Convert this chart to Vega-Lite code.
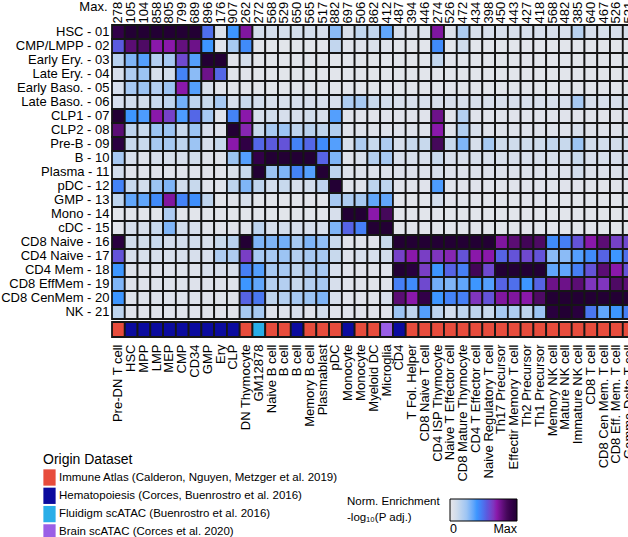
{
"$schema":"https://vega.github.io/schema/vega-lite/v6.json",
"padding":0,
"background":"white",
"bounds":"flush",
"spacing":3,
"config":{"view":{"stroke":null},"font":"Liberation Sans"},
"datasets":{
"cols":[
{"c":1,"key":"278|Pre-DN T cell","ds":"Immune Atlas (Calderon, Nguyen, Metzger et al. 2019)"},
{"c":2,"key":"105|HSC","ds":"Hematopoiesis (Corces, Buenrostro et al. 2016)"},
{"c":3,"key":"104|MPP","ds":"Hematopoiesis (Corces, Buenrostro et al. 2016)"},
{"c":4,"key":"858|LMP","ds":"Hematopoiesis (Corces, Buenrostro et al. 2016)"},
{"c":5,"key":"805|MEP","ds":"Hematopoiesis (Corces, Buenrostro et al. 2016)"},
{"c":6,"key":"799|CMP","ds":"Hematopoiesis (Corces, Buenrostro et al. 2016)"},
{"c":7,"key":"689|CD34","ds":"Hematopoiesis (Corces, Buenrostro et al. 2016)"},
{"c":8,"key":"896|GMP","ds":"Hematopoiesis (Corces, Buenrostro et al. 2016)"},
{"c":9,"key":"176|Ery","ds":"Hematopoiesis (Corces, Buenrostro et al. 2016)"},
{"c":10,"key":"907|CLP","ds":"Hematopoiesis (Corces, Buenrostro et al. 2016)"},
{"c":11,"key":"262|DN Thymocyte","ds":"Immune Atlas (Calderon, Nguyen, Metzger et al. 2019)"},
{"c":12,"key":"272|GM12878","ds":"Fluidigm scATAC (Buenrostro et al. 2016)"},
{"c":13,"key":"568|Naive B cell","ds":"Immune Atlas (Calderon, Nguyen, Metzger et al. 2019)"},
{"c":14,"key":"529|B cell","ds":"Immune Atlas (Calderon, Nguyen, Metzger et al. 2019)"},
{"c":15,"key":"650|B cell","ds":"Hematopoiesis (Corces, Buenrostro et al. 2016)"},
{"c":16,"key":"565|Memory B cell","ds":"Immune Atlas (Calderon, Nguyen, Metzger et al. 2019)"},
{"c":17,"key":"517|Plasmablast","ds":"Immune Atlas (Calderon, Nguyen, Metzger et al. 2019)"},
{"c":18,"key":"882|pDC","ds":"Immune Atlas (Calderon, Nguyen, Metzger et al. 2019)"},
{"c":19,"key":"697|Monocyte","ds":"Hematopoiesis (Corces, Buenrostro et al. 2016)"},
{"c":20,"key":"506|Monocyte","ds":"Immune Atlas (Calderon, Nguyen, Metzger et al. 2019)"},
{"c":21,"key":"862|Myeloid DC","ds":"Immune Atlas (Calderon, Nguyen, Metzger et al. 2019)"},
{"c":22,"key":"412|Microglia","ds":"Brain scATAC (Corces et al. 2020)"},
{"c":23,"key":"487|CD4","ds":"Hematopoiesis (Corces, Buenrostro et al. 2016)"},
{"c":24,"key":"394|T Fol. Helper","ds":"Immune Atlas (Calderon, Nguyen, Metzger et al. 2019)"},
{"c":25,"key":"446|CD8 Naive T cell","ds":"Immune Atlas (Calderon, Nguyen, Metzger et al. 2019)"},
{"c":26,"key":"274|CD4 ISP Thymocyte","ds":"Immune Atlas (Calderon, Nguyen, Metzger et al. 2019)"},
{"c":27,"key":"526|Naive T Effector cell","ds":"Immune Atlas (Calderon, Nguyen, Metzger et al. 2019)"},
{"c":28,"key":"472|CD8 Mature Thymocyte","ds":"Immune Atlas (Calderon, Nguyen, Metzger et al. 2019)"},
{"c":29,"key":"434|CD4 T Effector cell","ds":"Immune Atlas (Calderon, Nguyen, Metzger et al. 2019)"},
{"c":30,"key":"398|Naive Regulatory T cell","ds":"Immune Atlas (Calderon, Nguyen, Metzger et al. 2019)"},
{"c":31,"key":"450|Th17 Precursor","ds":"Immune Atlas (Calderon, Nguyen, Metzger et al. 2019)"},
{"c":32,"key":"443|Effectir Memory T cell","ds":"Immune Atlas (Calderon, Nguyen, Metzger et al. 2019)"},
{"c":33,"key":"427|Th2 Precursor","ds":"Immune Atlas (Calderon, Nguyen, Metzger et al. 2019)"},
{"c":34,"key":"418|Th1 Precursor","ds":"Immune Atlas (Calderon, Nguyen, Metzger et al. 2019)"},
{"c":35,"key":"568|Memory NK cell","ds":"Immune Atlas (Calderon, Nguyen, Metzger et al. 2019)"},
{"c":36,"key":"482|Mature NK cell","ds":"Immune Atlas (Calderon, Nguyen, Metzger et al. 2019)"},
{"c":37,"key":"385|Immature NK cell","ds":"Immune Atlas (Calderon, Nguyen, Metzger et al. 2019)"},
{"c":38,"key":"640|CD8 T cell","ds":"Immune Atlas (Calderon, Nguyen, Metzger et al. 2019)"},
{"c":39,"key":"467|CD8 Cen Mem. T cell","ds":"Immune Atlas (Calderon, Nguyen, Metzger et al. 2019)"},
{"c":40,"key":"526|CD8 Eff. Mem. T cell","ds":"Immune Atlas (Calderon, Nguyen, Metzger et al. 2019)"},
{"c":41,"key":"521|Gamma Delta T cell","ds":"Immune Atlas (Calderon, Nguyen, Metzger et al. 2019)"}
],
"rows":[
{"r":1,"name":"HSC - 01"},{"r":2,"name":"CMP/LMPP - 02"},{"r":3,"name":"Early Ery. - 03"},{"r":4,"name":"Late Ery. - 04"},{"r":5,"name":"Early Baso. - 05"},{"r":6,"name":"Late Baso. - 06"},{"r":7,"name":"CLP1 - 07"},{"r":8,"name":"CLP2 - 08"},{"r":9,"name":"Pre-B - 09"},{"r":10,"name":"B - 10"},{"r":11,"name":"Plasma - 11"},{"r":12,"name":"pDC - 12"},{"r":13,"name":"GMP - 13"},{"r":14,"name":"Mono - 14"},{"r":15,"name":"cDC - 15"},{"r":16,"name":"CD8 Naive - 16"},{"r":17,"name":"CD4 Naive - 17"},{"r":18,"name":"CD4 Mem - 18"},{"r":19,"name":"CD8 EffMem - 19"},{"r":20,"name":"CD8 CenMem - 20"},{"r":21,"name":"NK - 21"}
],
"cells":[
{"r":1,"c":1,"v":0.92},{"r":1,"c":2,"v":1},{"r":1,"c":3,"v":1},{"r":1,"c":4,"v":1},{"r":1,"c":5,"v":1},{"r":1,"c":6,"v":1},{"r":1,"c":7,"v":1},{"r":1,"c":8,"v":0.5},{"r":1,"c":9,"v":0.06},{"r":1,"c":10,"v":0.4},{"r":1,"c":11,"v":0.72},{"r":1,"c":12,"v":0.08},{"r":1,"c":13,"v":0.08},{"r":1,"c":14,"v":0.08},{"r":1,"c":15,"v":0.08},{"r":1,"c":16,"v":0.08},{"r":1,"c":17,"v":0.07},{"r":1,"c":18,"v":0.28},{"r":1,"c":19,"v":0.06},{"r":1,"c":20,"v":0.14},{"r":1,"c":21,"v":0.14},{"r":1,"c":22,"v":0.35},{"r":1,"c":23,"v":0.07},{"r":1,"c":24,"v":0.05},{"r":1,"c":25,"v":0.05},{"r":1,"c":26,"v":0.72},{"r":1,"c":27,"v":0.05},{"r":1,"c":28,"v":0.2},{"r":1,"c":29,"v":0.07},{"r":1,"c":30,"v":0.07},{"r":1,"c":31,"v":0.07},{"r":1,"c":32,"v":0.07},{"r":1,"c":33,"v":0.07},{"r":1,"c":34,"v":0.07},{"r":1,"c":35,"v":0.07},{"r":1,"c":36,"v":0.07},{"r":1,"c":37,"v":0.17},{"r":1,"c":38,"v":0.07},{"r":1,"c":39,"v":0.07},{"r":1,"c":40,"v":0.07},{"r":1,"c":41,"v":0.07},
{"r":2,"c":1,"v":0.55},{"r":2,"c":2,"v":0.8},{"r":2,"c":3,"v":0.83},{"r":2,"c":4,"v":0.7},{"r":2,"c":5,"v":0.7},{"r":2,"c":6,"v":0.78},{"r":2,"c":7,"v":0.76},{"r":2,"c":8,"v":0.4},{"r":2,"c":9,"v":0.03},{"r":2,"c":10,"v":0.22},{"r":2,"c":11,"v":0.43},{"r":2,"c":12,"v":0.02},{"r":2,"c":13,"v":0.02},{"r":2,"c":14,"v":0.02},{"r":2,"c":15,"v":0.02},{"r":2,"c":16,"v":0.02},{"r":2,"c":17,"v":0.02},{"r":2,"c":18,"v":0.14},{"r":2,"c":19,"v":0.03},{"r":2,"c":20,"v":0.04},{"r":2,"c":21,"v":0.06},{"r":2,"c":22,"v":0.04},{"r":2,"c":23,"v":0.02},{"r":2,"c":24,"v":0.02},{"r":2,"c":25,"v":0.02},{"r":2,"c":26,"v":0.43},{"r":2,"c":27,"v":0.02},{"r":2,"c":28,"v":0.1},{"r":2,"c":29,"v":0.02},{"r":2,"c":30,"v":0.02},{"r":2,"c":31,"v":0.02},{"r":2,"c":32,"v":0.02},{"r":2,"c":33,"v":0.02},{"r":2,"c":34,"v":0.02},{"r":2,"c":35,"v":0.02},{"r":2,"c":36,"v":0.02},{"r":2,"c":37,"v":0.02},{"r":2,"c":38,"v":0.02},{"r":2,"c":39,"v":0.02},{"r":2,"c":40,"v":0.02},{"r":2,"c":41,"v":0.02},
{"r":3,"c":1,"v":0.17},{"r":3,"c":2,"v":0.3},{"r":3,"c":3,"v":0.37},{"r":3,"c":4,"v":0.18},{"r":3,"c":5,"v":0.22},{"r":3,"c":6,"v":0.6},{"r":3,"c":7,"v":0.37},{"r":3,"c":8,"v":1},{"r":3,"c":9,"v":1},{"r":3,"c":10,"v":0.03},{"r":3,"c":11,"v":0.08},{"r":3,"c":12,"v":0.02},{"r":3,"c":13,"v":0.02},{"r":3,"c":14,"v":0.02},{"r":3,"c":15,"v":0.02},{"r":3,"c":16,"v":0.02},{"r":3,"c":17,"v":0.02},{"r":3,"c":18,"v":0.02},{"r":3,"c":19,"v":0.02},{"r":3,"c":20,"v":0.02},{"r":3,"c":21,"v":0.02},{"r":3,"c":22,"v":0.02},{"r":3,"c":23,"v":0.02},{"r":3,"c":24,"v":0.02},{"r":3,"c":25,"v":0.02},{"r":3,"c":26,"v":0.14},{"r":3,"c":27,"v":0.02},{"r":3,"c":28,"v":0.02},{"r":3,"c":29,"v":0.02},{"r":3,"c":30,"v":0.02},{"r":3,"c":31,"v":0.02},{"r":3,"c":32,"v":0.02},{"r":3,"c":33,"v":0.02},{"r":3,"c":34,"v":0.02},{"r":3,"c":35,"v":0.02},{"r":3,"c":36,"v":0.02},{"r":3,"c":37,"v":0.02},{"r":3,"c":38,"v":0.02},{"r":3,"c":39,"v":0.02},{"r":3,"c":40,"v":0.02},{"r":3,"c":41,"v":0.02},
{"r":4,"c":1,"v":0.07},{"r":4,"c":2,"v":0.2},{"r":4,"c":3,"v":0.25},{"r":4,"c":4,"v":0.07},{"r":4,"c":5,"v":0.09},{"r":4,"c":6,"v":0.45},{"r":4,"c":7,"v":0.28},{"r":4,"c":8,"v":0.76},{"r":4,"c":9,"v":0.52},{"r":4,"c":10,"v":0.03},{"r":4,"c":11,"v":0.03},{"r":4,"c":12,"v":0.02},{"r":4,"c":13,"v":0.02},{"r":4,"c":14,"v":0.02},{"r":4,"c":15,"v":0.02},{"r":4,"c":16,"v":0.02},{"r":4,"c":17,"v":0.02},{"r":4,"c":18,"v":0.02},{"r":4,"c":19,"v":0.02},{"r":4,"c":20,"v":0.02},{"r":4,"c":21,"v":0.02},{"r":4,"c":22,"v":0.02},{"r":4,"c":23,"v":0.02},{"r":4,"c":24,"v":0.02},{"r":4,"c":25,"v":0.02},{"r":4,"c":26,"v":0.02},{"r":4,"c":27,"v":0.02},{"r":4,"c":28,"v":0.02},{"r":4,"c":29,"v":0.02},{"r":4,"c":30,"v":0.02},{"r":4,"c":31,"v":0.02},{"r":4,"c":32,"v":0.02},{"r":4,"c":33,"v":0.02},{"r":4,"c":34,"v":0.02},{"r":4,"c":35,"v":0.02},{"r":4,"c":36,"v":0.02},{"r":4,"c":37,"v":0.02},{"r":4,"c":38,"v":0.02},{"r":4,"c":39,"v":0.02},{"r":4,"c":40,"v":0.02},{"r":4,"c":41,"v":0.02},
{"r":5,"c":1,"v":0.07},{"r":5,"c":2,"v":0.22},{"r":5,"c":3,"v":0.25},{"r":5,"c":4,"v":0.18},{"r":5,"c":5,"v":0.25},{"r":5,"c":6,"v":0.7},{"r":5,"c":7,"v":0.37},{"r":5,"c":8,"v":0.07},{"r":5,"c":9,"v":0.03},{"r":5,"c":10,"v":0.02},{"r":5,"c":11,"v":0.02},{"r":5,"c":12,"v":0.02},{"r":5,"c":13,"v":0.02},{"r":5,"c":14,"v":0.02},{"r":5,"c":15,"v":0.02},{"r":5,"c":16,"v":0.02},{"r":5,"c":17,"v":0.02},{"r":5,"c":18,"v":0.02},{"r":5,"c":19,"v":0.02},{"r":5,"c":20,"v":0.02},{"r":5,"c":21,"v":0.02},{"r":5,"c":22,"v":0.02},{"r":5,"c":23,"v":0.02},{"r":5,"c":24,"v":0.02},{"r":5,"c":25,"v":0.02},{"r":5,"c":26,"v":0.02},{"r":5,"c":27,"v":0.02},{"r":5,"c":28,"v":0.02},{"r":5,"c":29,"v":0.02},{"r":5,"c":30,"v":0.02},{"r":5,"c":31,"v":0.02},{"r":5,"c":32,"v":0.02},{"r":5,"c":33,"v":0.02},{"r":5,"c":34,"v":0.02},{"r":5,"c":35,"v":0.02},{"r":5,"c":36,"v":0.02},{"r":5,"c":37,"v":0.02},{"r":5,"c":38,"v":0.02},{"r":5,"c":39,"v":0.02},{"r":5,"c":40,"v":0.02},{"r":5,"c":41,"v":0.02},
{"r":6,"c":1,"v":0.07},{"r":6,"c":2,"v":0.09},{"r":6,"c":3,"v":0.09},{"r":6,"c":4,"v":0.12},{"r":6,"c":5,"v":0.15},{"r":6,"c":6,"v":0.32},{"r":6,"c":7,"v":0.15},{"r":6,"c":8,"v":0.12},{"r":6,"c":9,"v":0.22},{"r":6,"c":10,"v":0.07},{"r":6,"c":11,"v":0.12},{"r":6,"c":12,"v":0.09},{"r":6,"c":13,"v":0.07},{"r":6,"c":14,"v":0.07},{"r":6,"c":15,"v":0.07},{"r":6,"c":16,"v":0.07},{"r":6,"c":17,"v":0.07},{"r":6,"c":18,"v":0.07},{"r":6,"c":19,"v":0.2},{"r":6,"c":20,"v":0.22},{"r":6,"c":21,"v":0.12},{"r":6,"c":22,"v":0.09},{"r":6,"c":23,"v":0.07},{"r":6,"c":24,"v":0.07},{"r":6,"c":25,"v":0.07},{"r":6,"c":26,"v":0.07},{"r":6,"c":27,"v":0.07},{"r":6,"c":28,"v":0.07},{"r":6,"c":29,"v":0.07},{"r":6,"c":30,"v":0.07},{"r":6,"c":31,"v":0.07},{"r":6,"c":32,"v":0.07},{"r":6,"c":33,"v":0.07},{"r":6,"c":34,"v":0.07},{"r":6,"c":35,"v":0.07},{"r":6,"c":36,"v":0.07},{"r":6,"c":37,"v":0.22},{"r":6,"c":38,"v":0.07},{"r":6,"c":39,"v":0.07},{"r":6,"c":40,"v":0.07},{"r":6,"c":41,"v":0.07},
{"r":7,"c":1,"v":1},{"r":7,"c":2,"v":0.4},{"r":7,"c":3,"v":0.38},{"r":7,"c":4,"v":0.7},{"r":7,"c":5,"v":0.62},{"r":7,"c":6,"v":0.38},{"r":7,"c":7,"v":0.52},{"r":7,"c":8,"v":0.22},{"r":7,"c":9,"v":0.03},{"r":7,"c":10,"v":0.45},{"r":7,"c":11,"v":0.7},{"r":7,"c":12,"v":0.07},{"r":7,"c":13,"v":0.09},{"r":7,"c":14,"v":0.07},{"r":7,"c":15,"v":0.07},{"r":7,"c":16,"v":0.09},{"r":7,"c":17,"v":0.07},{"r":7,"c":18,"v":0.37},{"r":7,"c":19,"v":0.03},{"r":7,"c":20,"v":0.03},{"r":7,"c":21,"v":0.03},{"r":7,"c":22,"v":0.03},{"r":7,"c":23,"v":0.03},{"r":7,"c":24,"v":0.03},{"r":7,"c":25,"v":0.03},{"r":7,"c":26,"v":0.76},{"r":7,"c":27,"v":0.03},{"r":7,"c":28,"v":0.18},{"r":7,"c":29,"v":0.03},{"r":7,"c":30,"v":0.03},{"r":7,"c":31,"v":0.03},{"r":7,"c":32,"v":0.03},{"r":7,"c":33,"v":0.03},{"r":7,"c":34,"v":0.03},{"r":7,"c":35,"v":0.03},{"r":7,"c":36,"v":0.03},{"r":7,"c":37,"v":0.03},{"r":7,"c":38,"v":0.03},{"r":7,"c":39,"v":0.03},{"r":7,"c":40,"v":0.03},{"r":7,"c":41,"v":0.03},
{"r":8,"c":1,"v":0.8},{"r":8,"c":2,"v":0.15},{"r":8,"c":3,"v":0.12},{"r":8,"c":4,"v":0.25},{"r":8,"c":5,"v":0.25},{"r":8,"c":6,"v":0.12},{"r":8,"c":7,"v":0.25},{"r":8,"c":8,"v":0.07},{"r":8,"c":9,"v":0.03},{"r":8,"c":10,"v":1},{"r":8,"c":11,"v":0.68},{"r":8,"c":12,"v":0.12},{"r":8,"c":13,"v":0.22},{"r":8,"c":14,"v":0.25},{"r":8,"c":15,"v":0.15},{"r":8,"c":16,"v":0.17},{"r":8,"c":17,"v":0.15},{"r":8,"c":18,"v":0.19},{"r":8,"c":19,"v":0.04},{"r":8,"c":20,"v":0.04},{"r":8,"c":21,"v":0.04},{"r":8,"c":22,"v":0.04},{"r":8,"c":23,"v":0.04},{"r":8,"c":24,"v":0.04},{"r":8,"c":25,"v":0.04},{"r":8,"c":26,"v":0.7},{"r":8,"c":27,"v":0.04},{"r":8,"c":28,"v":0.19},{"r":8,"c":29,"v":0.07},{"r":8,"c":30,"v":0.04},{"r":8,"c":31,"v":0.04},{"r":8,"c":32,"v":0.04},{"r":8,"c":33,"v":0.04},{"r":8,"c":34,"v":0.04},{"r":8,"c":35,"v":0.04},{"r":8,"c":36,"v":0.04},{"r":8,"c":37,"v":0.07},{"r":8,"c":38,"v":0.04},{"r":8,"c":39,"v":0.04},{"r":8,"c":40,"v":0.04},{"r":8,"c":41,"v":0.04},
{"r":9,"c":1,"v":0.95},{"r":9,"c":2,"v":0.12},{"r":9,"c":3,"v":0.12},{"r":9,"c":4,"v":0.22},{"r":9,"c":5,"v":0.22},{"r":9,"c":6,"v":0.15},{"r":9,"c":7,"v":0.25},{"r":9,"c":8,"v":0.07},{"r":9,"c":9,"v":0.12},{"r":9,"c":10,"v":0.7},{"r":9,"c":11,"v":0.93},{"r":9,"c":12,"v":0.52},{"r":9,"c":13,"v":0.55},{"r":9,"c":14,"v":0.57},{"r":9,"c":15,"v":0.45},{"r":9,"c":16,"v":0.52},{"r":9,"c":17,"v":0.43},{"r":9,"c":18,"v":0.37},{"r":9,"c":19,"v":0.07},{"r":9,"c":20,"v":0.2},{"r":9,"c":21,"v":0.12},{"r":9,"c":22,"v":0.2},{"r":9,"c":23,"v":0.07},{"r":9,"c":24,"v":0.12},{"r":9,"c":25,"v":0.12},{"r":9,"c":26,"v":0.85},{"r":9,"c":27,"v":0.12},{"r":9,"c":28,"v":0.3},{"r":9,"c":29,"v":0.07},{"r":9,"c":30,"v":0.22},{"r":9,"c":31,"v":0.1},{"r":9,"c":32,"v":0.1},{"r":9,"c":33,"v":0.1},{"r":9,"c":34,"v":0.1},{"r":9,"c":35,"v":0.14},{"r":9,"c":36,"v":0.12},{"r":9,"c":37,"v":0.25},{"r":9,"c":38,"v":0.09},{"r":9,"c":39,"v":0.09},{"r":9,"c":40,"v":0.09},{"r":9,"c":41,"v":0.09},
{"r":10,"c":1,"v":0.22},{"r":10,"c":2,"v":0.07},{"r":10,"c":3,"v":0.04},{"r":10,"c":4,"v":0.07},{"r":10,"c":5,"v":0.07},{"r":10,"c":6,"v":0.07},{"r":10,"c":7,"v":0.09},{"r":10,"c":8,"v":0.04},{"r":10,"c":9,"v":0.04},{"r":10,"c":10,"v":0.25},{"r":10,"c":11,"v":0.37},{"r":10,"c":12,"v":0.92},{"r":10,"c":13,"v":1},{"r":10,"c":14,"v":1},{"r":10,"c":15,"v":1},{"r":10,"c":16,"v":1},{"r":10,"c":17,"v":0.53},{"r":10,"c":18,"v":0.3},{"r":10,"c":19,"v":0.04},{"r":10,"c":20,"v":0.07},{"r":10,"c":21,"v":0.18},{"r":10,"c":22,"v":0.22},{"r":10,"c":23,"v":0.07},{"r":10,"c":24,"v":0.07},{"r":10,"c":25,"v":0.07},{"r":10,"c":26,"v":0.12},{"r":10,"c":27,"v":0.07},{"r":10,"c":28,"v":0.07},{"r":10,"c":29,"v":0.07},{"r":10,"c":30,"v":0.07},{"r":10,"c":31,"v":0.07},{"r":10,"c":32,"v":0.07},{"r":10,"c":33,"v":0.07},{"r":10,"c":34,"v":0.07},{"r":10,"c":35,"v":0.07},{"r":10,"c":36,"v":0.07},{"r":10,"c":37,"v":0.12},{"r":10,"c":38,"v":0.07},{"r":10,"c":39,"v":0.07},{"r":10,"c":40,"v":0.07},{"r":10,"c":41,"v":0.07},
{"r":11,"c":1,"v":0.09},{"r":11,"c":2,"v":0.03},{"r":11,"c":3,"v":0.03},{"r":11,"c":4,"v":0.03},{"r":11,"c":5,"v":0.03},{"r":11,"c":6,"v":0.03},{"r":11,"c":7,"v":0.03},{"r":11,"c":8,"v":0.03},{"r":11,"c":9,"v":0.03},{"r":11,"c":10,"v":0.06},{"r":11,"c":11,"v":0.12},{"r":11,"c":12,"v":1},{"r":11,"c":13,"v":0.25},{"r":11,"c":14,"v":0.3},{"r":11,"c":15,"v":0.45},{"r":11,"c":16,"v":0.37},{"r":11,"c":17,"v":1},{"r":11,"c":18,"v":0.15},{"r":11,"c":19,"v":0.05},{"r":11,"c":20,"v":0.05},{"r":11,"c":21,"v":0.05},{"r":11,"c":22,"v":0.05},{"r":11,"c":23,"v":0.05},{"r":11,"c":24,"v":0.05},{"r":11,"c":25,"v":0.05},{"r":11,"c":26,"v":0.07},{"r":11,"c":27,"v":0.05},{"r":11,"c":28,"v":0.05},{"r":11,"c":29,"v":0.05},{"r":11,"c":30,"v":0.05},{"r":11,"c":31,"v":0.05},{"r":11,"c":32,"v":0.05},{"r":11,"c":33,"v":0.05},{"r":11,"c":34,"v":0.05},{"r":11,"c":35,"v":0.05},{"r":11,"c":36,"v":0.05},{"r":11,"c":37,"v":0.09},{"r":11,"c":38,"v":0.05},{"r":11,"c":39,"v":0.05},{"r":11,"c":40,"v":0.05},{"r":11,"c":41,"v":0.05},
{"r":12,"c":1,"v":0.45},{"r":12,"c":2,"v":0.12},{"r":12,"c":3,"v":0.09},{"r":12,"c":4,"v":0.25},{"r":12,"c":5,"v":0.3},{"r":12,"c":6,"v":0.09},{"r":12,"c":7,"v":0.12},{"r":12,"c":8,"v":0.03},{"r":12,"c":9,"v":0.03},{"r":12,"c":10,"v":0.15},{"r":12,"c":11,"v":0.3},{"r":12,"c":12,"v":0.15},{"r":12,"c":13,"v":0.09},{"r":12,"c":14,"v":0.12},{"r":12,"c":15,"v":0.07},{"r":12,"c":16,"v":0.09},{"r":12,"c":17,"v":0.15},{"r":12,"c":18,"v":1},{"r":12,"c":19,"v":0.03},{"r":12,"c":20,"v":0.03},{"r":12,"c":21,"v":0.15},{"r":12,"c":22,"v":0.15},{"r":12,"c":23,"v":0.03},{"r":12,"c":24,"v":0.03},{"r":12,"c":25,"v":0.03},{"r":12,"c":26,"v":0.38},{"r":12,"c":27,"v":0.03},{"r":12,"c":28,"v":0.03},{"r":12,"c":29,"v":0.03},{"r":12,"c":30,"v":0.03},{"r":12,"c":31,"v":0.03},{"r":12,"c":32,"v":0.03},{"r":12,"c":33,"v":0.03},{"r":12,"c":34,"v":0.03},{"r":12,"c":35,"v":0.03},{"r":12,"c":36,"v":0.03},{"r":12,"c":37,"v":0.03},{"r":12,"c":38,"v":0.03},{"r":12,"c":39,"v":0.03},{"r":12,"c":40,"v":0.03},{"r":12,"c":41,"v":0.03},
{"r":13,"c":1,"v":0.15},{"r":13,"c":2,"v":0.35},{"r":13,"c":3,"v":0.35},{"r":13,"c":4,"v":0.43},{"r":13,"c":5,"v":0.72},{"r":13,"c":6,"v":0.45},{"r":13,"c":7,"v":0.42},{"r":13,"c":8,"v":0.15},{"r":13,"c":9,"v":0.02},{"r":13,"c":10,"v":0.03},{"r":13,"c":11,"v":0.07},{"r":13,"c":12,"v":0.02},{"r":13,"c":13,"v":0.02},{"r":13,"c":14,"v":0.02},{"r":13,"c":15,"v":0.02},{"r":13,"c":16,"v":0.02},{"r":13,"c":17,"v":0.02},{"r":13,"c":18,"v":0.22},{"r":13,"c":19,"v":0.2},{"r":13,"c":20,"v":0.22},{"r":13,"c":21,"v":0.35},{"r":13,"c":22,"v":0.35},{"r":13,"c":23,"v":0.02},{"r":13,"c":24,"v":0.02},{"r":13,"c":25,"v":0.02},{"r":13,"c":26,"v":0.09},{"r":13,"c":27,"v":0.02},{"r":13,"c":28,"v":0.02},{"r":13,"c":29,"v":0.02},{"r":13,"c":30,"v":0.02},{"r":13,"c":31,"v":0.02},{"r":13,"c":32,"v":0.02},{"r":13,"c":33,"v":0.02},{"r":13,"c":34,"v":0.02},{"r":13,"c":35,"v":0.02},{"r":13,"c":36,"v":0.02},{"r":13,"c":37,"v":0.02},{"r":13,"c":38,"v":0.02},{"r":13,"c":39,"v":0.02},{"r":13,"c":40,"v":0.02},{"r":13,"c":41,"v":0.02},
{"r":14,"c":1,"v":0.02},{"r":14,"c":2,"v":0.02},{"r":14,"c":3,"v":0.02},{"r":14,"c":4,"v":0.02},{"r":14,"c":5,"v":0.2},{"r":14,"c":6,"v":0.02},{"r":14,"c":7,"v":0.02},{"r":14,"c":8,"v":0.02},{"r":14,"c":9,"v":0.02},{"r":14,"c":10,"v":0.02},{"r":14,"c":11,"v":0.02},{"r":14,"c":12,"v":0.02},{"r":14,"c":13,"v":0.02},{"r":14,"c":14,"v":0.02},{"r":14,"c":15,"v":0.02},{"r":14,"c":16,"v":0.02},{"r":14,"c":17,"v":0.02},{"r":14,"c":18,"v":0.07},{"r":14,"c":19,"v":1},{"r":14,"c":20,"v":1},{"r":14,"c":21,"v":0.7},{"r":14,"c":22,"v":0.85},{"r":14,"c":23,"v":0.02},{"r":14,"c":24,"v":0.02},{"r":14,"c":25,"v":0.02},{"r":14,"c":26,"v":0.02},{"r":14,"c":27,"v":0.02},{"r":14,"c":28,"v":0.02},{"r":14,"c":29,"v":0.02},{"r":14,"c":30,"v":0.02},{"r":14,"c":31,"v":0.02},{"r":14,"c":32,"v":0.02},{"r":14,"c":33,"v":0.02},{"r":14,"c":34,"v":0.02},{"r":14,"c":35,"v":0.02},{"r":14,"c":36,"v":0.02},{"r":14,"c":37,"v":0.02},{"r":14,"c":38,"v":0.02},{"r":14,"c":39,"v":0.02},{"r":14,"c":40,"v":0.02},{"r":14,"c":41,"v":0.02},
{"r":15,"c":1,"v":0.02},{"r":15,"c":2,"v":0.07},{"r":15,"c":3,"v":0.07},{"r":15,"c":4,"v":0.12},{"r":15,"c":5,"v":0.3},{"r":15,"c":6,"v":0.09},{"r":15,"c":7,"v":0.07},{"r":15,"c":8,"v":0.03},{"r":15,"c":9,"v":0.03},{"r":15,"c":10,"v":0.03},{"r":15,"c":11,"v":0.03},{"r":15,"c":12,"v":0.15},{"r":15,"c":13,"v":0.07},{"r":15,"c":14,"v":0.09},{"r":15,"c":15,"v":0.07},{"r":15,"c":16,"v":0.07},{"r":15,"c":17,"v":0.07},{"r":15,"c":18,"v":0.3},{"r":15,"c":19,"v":0.53},{"r":15,"c":20,"v":0.46},{"r":15,"c":21,"v":1},{"r":15,"c":22,"v":1},{"r":15,"c":23,"v":0.02},{"r":15,"c":24,"v":0.02},{"r":15,"c":25,"v":0.02},{"r":15,"c":26,"v":0.02},{"r":15,"c":27,"v":0.02},{"r":15,"c":28,"v":0.02},{"r":15,"c":29,"v":0.02},{"r":15,"c":30,"v":0.02},{"r":15,"c":31,"v":0.02},{"r":15,"c":32,"v":0.02},{"r":15,"c":33,"v":0.02},{"r":15,"c":34,"v":0.02},{"r":15,"c":35,"v":0.02},{"r":15,"c":36,"v":0.02},{"r":15,"c":37,"v":0.02},{"r":15,"c":38,"v":0.02},{"r":15,"c":39,"v":0.02},{"r":15,"c":40,"v":0.02},{"r":15,"c":41,"v":0.02},
{"r":16,"c":1,"v":0.95},{"r":16,"c":2,"v":0.09},{"r":16,"c":3,"v":0.09},{"r":16,"c":4,"v":0.12},{"r":16,"c":5,"v":0.09},{"r":16,"c":6,"v":0.09},{"r":16,"c":7,"v":0.09},{"r":16,"c":8,"v":0.07},{"r":16,"c":9,"v":0.12},{"r":16,"c":10,"v":0.17},{"r":16,"c":11,"v":1},{"r":16,"c":12,"v":0.3},{"r":16,"c":13,"v":0.3},{"r":16,"c":14,"v":0.32},{"r":16,"c":15,"v":0.22},{"r":16,"c":16,"v":0.3},{"r":16,"c":17,"v":0.27},{"r":16,"c":18,"v":0.12},{"r":16,"c":19,"v":0.03},{"r":16,"c":20,"v":0.03},{"r":16,"c":21,"v":0.03},{"r":16,"c":22,"v":0.12},{"r":16,"c":23,"v":1},{"r":16,"c":24,"v":1},{"r":16,"c":25,"v":1},{"r":16,"c":26,"v":1},{"r":16,"c":27,"v":1},{"r":16,"c":28,"v":1},{"r":16,"c":29,"v":1},{"r":16,"c":30,"v":1},{"r":16,"c":31,"v":0.72},{"r":16,"c":32,"v":0.8},{"r":16,"c":33,"v":0.86},{"r":16,"c":34,"v":0.83},{"r":16,"c":35,"v":0.43},{"r":16,"c":36,"v":0.46},{"r":16,"c":37,"v":0.57},{"r":16,"c":38,"v":0.7},{"r":16,"c":39,"v":0.8},{"r":16,"c":40,"v":0.62},{"r":16,"c":41,"v":0.6},
{"r":17,"c":1,"v":0.57},{"r":17,"c":2,"v":0.07},{"r":17,"c":3,"v":0.07},{"r":17,"c":4,"v":0.07},{"r":17,"c":5,"v":0.07},{"r":17,"c":6,"v":0.07},{"r":17,"c":7,"v":0.07},{"r":17,"c":8,"v":0.07},{"r":17,"c":9,"v":0.2},{"r":17,"c":10,"v":0.2},{"r":17,"c":11,"v":0.63},{"r":17,"c":12,"v":0.22},{"r":17,"c":13,"v":0.22},{"r":17,"c":14,"v":0.25},{"r":17,"c":15,"v":0.18},{"r":17,"c":16,"v":0.22},{"r":17,"c":17,"v":0.22},{"r":17,"c":18,"v":0.12},{"r":17,"c":19,"v":0.04},{"r":17,"c":20,"v":0.07},{"r":17,"c":21,"v":0.07},{"r":17,"c":22,"v":0.09},{"r":17,"c":23,"v":0.62},{"r":17,"c":24,"v":0.7},{"r":17,"c":25,"v":0.63},{"r":17,"c":26,"v":0.65},{"r":17,"c":27,"v":0.68},{"r":17,"c":28,"v":0.57},{"r":17,"c":29,"v":0.7},{"r":17,"c":30,"v":0.7},{"r":17,"c":31,"v":0.53},{"r":17,"c":32,"v":0.57},{"r":17,"c":33,"v":0.6},{"r":17,"c":34,"v":0.57},{"r":17,"c":35,"v":0.28},{"r":17,"c":36,"v":0.28},{"r":17,"c":37,"v":0.37},{"r":17,"c":38,"v":0.43},{"r":17,"c":39,"v":0.53},{"r":17,"c":40,"v":0.4},{"r":17,"c":41,"v":0.5},
{"r":18,"c":1,"v":0.4},{"r":18,"c":2,"v":0.04},{"r":18,"c":3,"v":0.04},{"r":18,"c":4,"v":0.04},{"r":18,"c":5,"v":0.04},{"r":18,"c":6,"v":0.04},{"r":18,"c":7,"v":0.04},{"r":18,"c":8,"v":0.07},{"r":18,"c":9,"v":0.07},{"r":18,"c":10,"v":0.07},{"r":18,"c":11,"v":0.46},{"r":18,"c":12,"v":0.37},{"r":18,"c":13,"v":0.22},{"r":18,"c":14,"v":0.22},{"r":18,"c":15,"v":0.15},{"r":18,"c":16,"v":0.2},{"r":18,"c":17,"v":0.22},{"r":18,"c":18,"v":0.07},{"r":18,"c":19,"v":0.03},{"r":18,"c":20,"v":0.03},{"r":18,"c":21,"v":0.03},{"r":18,"c":22,"v":0.03},{"r":18,"c":23,"v":1},{"r":18,"c":24,"v":0.96},{"r":18,"c":25,"v":0.63},{"r":18,"c":26,"v":0.4},{"r":18,"c":27,"v":0.53},{"r":18,"c":28,"v":0.46},{"r":18,"c":29,"v":0.86},{"r":18,"c":30,"v":0.6},{"r":18,"c":31,"v":1},{"r":18,"c":32,"v":1},{"r":18,"c":33,"v":1},{"r":18,"c":34,"v":1},{"r":18,"c":35,"v":0.35},{"r":18,"c":36,"v":0.35},{"r":18,"c":37,"v":0.46},{"r":18,"c":38,"v":0.57},{"r":18,"c":39,"v":0.8},{"r":18,"c":40,"v":0.7},{"r":18,"c":41,"v":0.57},
{"r":19,"c":1,"v":0.3},{"r":19,"c":2,"v":0.04},{"r":19,"c":3,"v":0.04},{"r":19,"c":4,"v":0.04},{"r":19,"c":5,"v":0.04},{"r":19,"c":6,"v":0.04},{"r":19,"c":7,"v":0.04},{"r":19,"c":8,"v":0.04},{"r":19,"c":9,"v":0.04},{"r":19,"c":10,"v":0.04},{"r":19,"c":11,"v":0.4},{"r":19,"c":12,"v":0.35},{"r":19,"c":13,"v":0.18},{"r":19,"c":14,"v":0.18},{"r":19,"c":15,"v":0.12},{"r":19,"c":16,"v":0.18},{"r":19,"c":17,"v":0.22},{"r":19,"c":18,"v":0.07},{"r":19,"c":19,"v":0.03},{"r":19,"c":20,"v":0.03},{"r":19,"c":21,"v":0.03},{"r":19,"c":22,"v":0.03},{"r":19,"c":23,"v":0.46},{"r":19,"c":24,"v":0.43},{"r":19,"c":25,"v":0.6},{"r":19,"c":26,"v":0.32},{"r":19,"c":27,"v":0.3},{"r":19,"c":28,"v":0.35},{"r":19,"c":29,"v":0.4},{"r":19,"c":30,"v":0.37},{"r":19,"c":31,"v":0.53},{"r":19,"c":32,"v":0.5},{"r":19,"c":33,"v":0.4},{"r":19,"c":34,"v":0.53},{"r":19,"c":35,"v":0.76},{"r":19,"c":36,"v":0.76},{"r":19,"c":37,"v":0.8},{"r":19,"c":38,"v":0.65},{"r":19,"c":39,"v":0.65},{"r":19,"c":40,"v":0.83},{"r":19,"c":41,"v":0.8},
{"r":20,"c":1,"v":0.4},{"r":20,"c":2,"v":0.04},{"r":20,"c":3,"v":0.04},{"r":20,"c":4,"v":0.04},{"r":20,"c":5,"v":0.04},{"r":20,"c":6,"v":0.04},{"r":20,"c":7,"v":0.04},{"r":20,"c":8,"v":0.04},{"r":20,"c":9,"v":0.04},{"r":20,"c":10,"v":0.04},{"r":20,"c":11,"v":0.53},{"r":20,"c":12,"v":0.48},{"r":20,"c":13,"v":0.15},{"r":20,"c":14,"v":0.18},{"r":20,"c":15,"v":0.22},{"r":20,"c":16,"v":0.25},{"r":20,"c":17,"v":0.3},{"r":20,"c":18,"v":0.07},{"r":20,"c":19,"v":0.03},{"r":20,"c":20,"v":0.03},{"r":20,"c":21,"v":0.03},{"r":20,"c":22,"v":0.07},{"r":20,"c":23,"v":0.8},{"r":20,"c":24,"v":0.7},{"r":20,"c":25,"v":0.92},{"r":20,"c":26,"v":0.4},{"r":20,"c":27,"v":0.45},{"r":20,"c":28,"v":0.46},{"r":20,"c":29,"v":0.65},{"r":20,"c":30,"v":0.57},{"r":20,"c":31,"v":0.72},{"r":20,"c":32,"v":0.72},{"r":20,"c":33,"v":0.7},{"r":20,"c":34,"v":0.83},{"r":20,"c":35,"v":1},{"r":20,"c":36,"v":1},{"r":20,"c":37,"v":1},{"r":20,"c":38,"v":1},{"r":20,"c":39,"v":1},{"r":20,"c":40,"v":1},{"r":20,"c":41,"v":1},
{"r":21,"c":1,"v":0.15},{"r":21,"c":2,"v":0.03},{"r":21,"c":3,"v":0.03},{"r":21,"c":4,"v":0.03},{"r":21,"c":5,"v":0.03},{"r":21,"c":6,"v":0.03},{"r":21,"c":7,"v":0.03},{"r":21,"c":8,"v":0.03},{"r":21,"c":9,"v":0.03},{"r":21,"c":10,"v":0.03},{"r":21,"c":11,"v":0.22},{"r":21,"c":12,"v":0.22},{"r":21,"c":13,"v":0.04},{"r":21,"c":14,"v":0.04},{"r":21,"c":15,"v":0.07},{"r":21,"c":16,"v":0.04},{"r":21,"c":17,"v":0.09},{"r":21,"c":18,"v":0.03},{"r":21,"c":19,"v":0.03},{"r":21,"c":20,"v":0.03},{"r":21,"c":21,"v":0.03},{"r":21,"c":22,"v":0.03},{"r":21,"c":23,"v":0.25},{"r":21,"c":24,"v":0.15},{"r":21,"c":25,"v":0.37},{"r":21,"c":26,"v":0.15},{"r":21,"c":27,"v":0.09},{"r":21,"c":28,"v":0.15},{"r":21,"c":29,"v":0.15},{"r":21,"c":30,"v":0.12},{"r":21,"c":31,"v":0.22},{"r":21,"c":32,"v":0.2},{"r":21,"c":33,"v":0.15},{"r":21,"c":34,"v":0.25},{"r":21,"c":35,"v":0.96},{"r":21,"c":36,"v":1},{"r":21,"c":37,"v":0.96},{"r":21,"c":38,"v":0.48},{"r":21,"c":39,"v":0.35},{"r":21,"c":40,"v":0.4},{"r":21,"c":41,"v":0.46}
]
},
"vconcat":[
{
"width":{"step":12.77},
"height":{"step":14},
"data":{"name":"cells"},
"transform":[
{"lookup":"c","from":{"data":{"name":"cols"},"key":"c","fields":["key"]}},
{"lookup":"r","from":{"data":{"name":"rows"},"key":"r","fields":["name"]}}
],
"mark":{"type":"rect","stroke":"#161616","strokeWidth":1.8},
"encoding":{
"x":{"field":"key","type":"nominal","sort":{"field":"c","op":"min"},"scale":{"paddingInner":0,"paddingOuter":0},
"axis":{"orient":"top","labelAngle":-90,"labelExpr":"split(datum.value,'|')[0]","labelFontSize":13,"labelColor":"black","ticks":false,"domain":false,"labelPadding":2,"title":"Max.","titleFontSize":13,"titleFontWeight":"normal","titleColor":"black","titleX":-5,"titleY":-15,"titleAlign":"right","titleBaseline":"alphabetic","titleAngle":0}},
"y":{"field":"name","type":"nominal","sort":{"field":"r","op":"min"},"scale":{"paddingInner":0,"paddingOuter":0},
"axis":{"title":null,"ticks":false,"domain":false,"labelFontSize":13,"labelColor":"black","labelPadding":3}},
"color":{"field":"v","type":"quantitative",
"scale":{"domain":[0,0.1,0.25,0.4,0.55,0.7,0.85,1],"range":["#e6e7ea","#cfdcec","#9cc4f3","#3d96ff","#5b5ade","#8a18aa","#45085a","#000000"]},
"legend":{"orient":"none","legendX":235,"legendY":474,"direction":"horizontal","title":["Norm. Enrichment","\u00a0\u00a0\u00a0\u00a0\u00a0\u00a0\u00a0\u00a0\u00a0\u00a0\u00a0-log₁₀(P adj.)"],"titleOrient":"left","titleFontSize":11.5,"titleFontWeight":"normal","titleColor":"black","titlePadding":10,"titleLineHeight":16,"gradientLength":67,"gradientThickness":22,"gradientStrokeColor":"black","gradientStrokeWidth":1,"values":[0,1],"labelExpr":"datum.value==0?'0':'Max'","labelFontSize":12.5,"labelColor":"black","labelOffset":2}}
}
},
{
"width":{"step":12.77},
"height":15,
"data":{"name":"cols"},
"mark":{"type":"rect","stroke":"#161616","strokeWidth":1.8},
"encoding":{
"x":{"field":"key","type":"nominal","sort":{"field":"c","op":"min"},"scale":{"paddingInner":0,"paddingOuter":0},
"axis":{"orient":"bottom","labelAngle":-90,"labelExpr":"split(datum.value,'|')[1]","labelFontSize":13,"labelColor":"black","ticks":false,"domain":false,"labelPadding":7,"title":null}},
"color":{"field":"ds","type":"nominal",
"scale":{"domain":["Immune Atlas (Calderon, Nguyen, Metzger et al. 2019)","Hematopoiesis (Corces, Buenrostro et al. 2016)","Fluidigm scATAC (Buenrostro et al. 2016)","Brain scATAC (Corces et al. 2020)"],"range":["#e74c3c","#0b0b9e","#2aaee8","#9a5fe6"]},
"legend":{"orient":"none","legendX":-69,"legendY":131,"title":"Origin Dataset","titleFontSize":14,"titleFontWeight":"normal","titleColor":"black","titlePadding":4,"symbolType":"M-1,-1.33H1V1.33H-1Z","symbolSize":150,"symbolStrokeWidth":0,"symbolOpacity":1,"labelFontSize":11.5,"labelColor":"black","labelOffset":3,"rowPadding":1.3,"labelLimit":400}}
}
}
],
"resolve":{"scale":{"color":"independent"},"legend":{"color":"independent"}}
}
